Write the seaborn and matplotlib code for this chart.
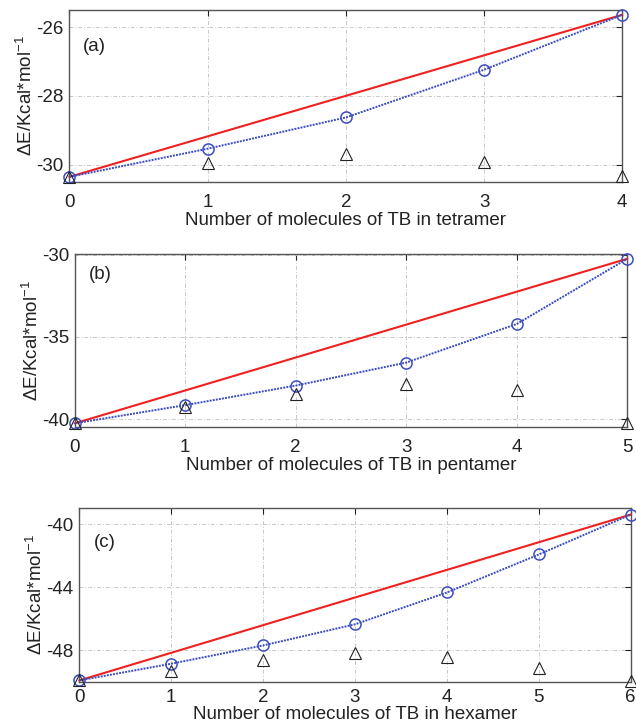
import numpy as np
import pandas as pd
import matplotlib
matplotlib.use("Agg")
import matplotlib.pyplot as plt
import seaborn as sns

# ---- data ----
n_a = [0, 1, 2, 3, 4]
circ_a = [-30.36, -29.54, -28.63, -27.24, -25.64]
tri_a = [-30.36, -29.97, -29.70, -29.92, -30.34]

n_b = [0, 1, 2, 3, 4, 5]
circ_b = [-40.26, -39.15, -37.96, -36.56, -34.21, -30.24]
tri_b = [-40.26, -39.29, -38.48, -37.87, -38.20, -40.22]

n_c = [0, 1, 2, 3, 4, 5, 6]
circ_c = [-49.92, -48.86, -47.70, -46.36, -44.34, -41.93, -39.40]
tri_c = [-49.92, -49.29, -48.60, -48.21, -48.43, -49.12, -49.93]

panel_labels = ["(a)", "(b)", "(c)"]
xlabels = ["Number of molecules of TB in tetramer",
           "Number of molecules of TB in pentamer",
           "Number of molecules of TB in hexamer"]
yticks_list = [[-30, -28, -26], [-40, -35, -30], [-48, -44, -40]]
ylims = [(-30.5, -25.5), (-40.5, -29.95), (-50.0, -39.0)]
ylabel = r"$\Delta$E/Kcal*mol$^{-1}$"

sns.set_style("white")
plt.rcParams['font.family'] = ['Liberation Sans', 'DejaVu Sans']
plt.rcParams['mathtext.fontset'] = 'custom'
plt.rcParams['mathtext.rm'] = 'Liberation Sans'
plt.rcParams['mathtext.it'] = 'Liberation Sans'
plt.rcParams['axes.unicode_minus'] = False

fig = plt.figure(figsize=(6.36, 7.24), dpi=100)
W, H = 636, 724
boxes = [(69.3, 10, 622.3, 181.7), (74.7, 254, 627.3, 427.3), (79.3, 508.3, 630.7, 681.7)]
label_pos = [(0.025, 0.785), (0.026, 0.88), (0.027, 0.80)]
xtick_pads = [8.5, 8.5, 5.5]
xlabel_pads = [1, 1, 0]

datasets = [(n_a, circ_a, tri_a), (n_b, circ_b, tri_b), (n_c, circ_c, tri_c)]
blue = '#3a4cc0'
red = '#f02020'

for i, ((n, circ, tri), (l, t, r, b)) in enumerate(zip(datasets, boxes)):
    ax = fig.add_axes([l / W, 1 - b / H, (r - l) / W, (b - t) / H])
    df = pd.DataFrame({"n": n, "circ": circ, "tri": tri})
    ends = df.iloc[[0, -1]]
    sns.lineplot(data=ends, x="n", y="circ", ax=ax, color=red, lw=1.5,
                 zorder=3, clip_on=False)
    sns.lineplot(data=df, x="n", y="circ", ax=ax, color=blue, lw=1.4,
                 linestyle=(0, (1, 0.6)), marker='o', markersize=8,
                 markerfacecolor='none', markeredgecolor=blue,
                 markeredgewidth=1.1, zorder=4, clip_on=False)
    sns.lineplot(data=df, x="n", y="tri", ax=ax, linestyle='none',
                 marker='^', markersize=8, markerfacecolor='none',
                 markeredgecolor='#222222', markeredgewidth=0.8,
                 color='#222222', zorder=5, clip_on=False)
    ax.set_xlim(n[0], n[-1])
    ax.set_ylim(*ylims[i])
    ax.set_xticks(n)
    ax.set_yticks(yticks_list[i])
    ax.grid(True, color='#c8c8c8', linestyle=(0, (4, 2, 1, 2)), lw=0.7)
    ax.tick_params(direction='in', length=4, width=0.8, top=True, right=True,
                   labelsize=13.5, colors='#222222')
    ax.tick_params(axis='x', pad=xtick_pads[i])
    ax.tick_params(axis='y', pad=4)
    for s in ax.spines.values():
        s.set_color('#555555')
        s.set_linewidth(1.0)
    ax.set_xlabel(xlabels[i], fontsize=13.5, labelpad=xlabel_pads[i], color='#222222')
    ax.set_ylabel(ylabel, fontsize=13.5, labelpad=0, color='#222222')
    ax.text(label_pos[i][0], label_pos[i][1], panel_labels[i],
            transform=ax.transAxes, fontsize=13.5, color='#222222',
            ha='left', va='center')

fig.savefig("out.png", dpi=100)
